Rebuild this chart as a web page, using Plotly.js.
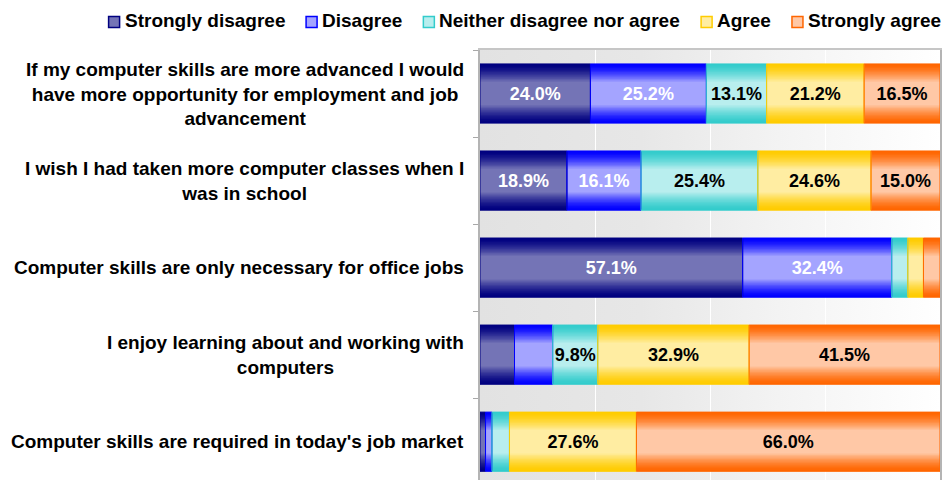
<!DOCTYPE html>
<html>
<head>
<meta charset="utf-8">
<script src="https://cdn.plot.ly/plotly-3.0.1.min.js"></script>
<style>
  html, body { margin: 0; padding: 0; background: #ffffff; }
  #chart { width: 942px; height: 480px; }
</style>
</head>
<body>
<div id="chart"></div>
<script>
// Survey statements (top to bottom) and the five response levels
const statements = [
  "If my computer skills are more advanced I would<br>have more opportunity for employment and job<br>advancement",
  "I wish I had taken more computer classes when I<br>was in school",
  "Computer skills are only necessary for office jobs",
  "I enjoy learning about and working with<br>computers",
  "Computer skills are required in today's job market"
];
const responseLabels = ["Strongly disagree", "Disagree", "Neither disagree nor agree", "Agree", "Strongly agree"];

// Share of respondents (%) per statement
const stronglyDisagree = [24.0, 18.9, 57.1, 7.5, 1.2];
const disagree         = [25.2, 16.1, 32.4, 8.3, 1.4];
const neither          = [13.1, 25.4, 3.5, 9.8, 3.8];
const agree            = [21.2, 24.6, 3.4, 32.9, 27.6];
const stronglyAgree    = [16.5, 15.0, 3.6, 41.5, 66.0];

const seriesValues = [stronglyDisagree, disagree, neither, agree, stronglyAgree];

// Segment shading: darker colour on the bar edges, lighter in the middle
const edgeColors = ["#000080", "#0000ff", "#33cccc", "#ffcc00", "#ff6600"];
const midColors  = ["#7474b6", "#a4a4ff", "#b8eeee", "#ffeda2", "#ffc8a6"];
const textColors = ["#ffffff", "#ffffff", "#000000", "#000000", "#000000"];

const FONT = "Liberation Sans, Arial, sans-serif";
const W = 942, H = 480;
const M = { l: 480, r: 2, t: 50, b: 0 };
const BAR_W = 0.68;
const STEPS = 14;

function hexToRgb(h) {
  const n = parseInt(h.slice(1), 16);
  return [(n >> 16) & 255, (n >> 8) & 255, n & 255];
}
function mix(a, b, t) {
  const A = hexToRgb(a), B = hexToRgb(b);
  const c = A.map((v, i) => Math.round(v + (B[i] - v) * t));
  return "rgb(" + c.join(",") + ")";
}
// pixel position on the page -> paper coordinates
const pxX = px => (px - M.l) / (W - M.l - M.r);
const pxY = py => 1 - (py - M.t) / (H - M.t - M.b);

// Running left edge of each segment (stacked to 100%)
const bases = seriesValues.map((vals, s) =>
  vals.map((v, i) => seriesValues.slice(0, s).reduce((acc, arr) => acc + arr[i], 0))
);

const traces = [];
seriesValues.forEach((vals, s) => {
  for (let k = 0; k < STEPS; k++) {
    const t = k / (STEPS - 1);
    traces.push({
      type: "bar",
      orientation: "h",
      y: statements,
      x: vals,
      base: bases[s],
      width: BAR_W * (1 - 0.6 * t),
      name: responseLabels[s],
      showlegend: false,
      marker: { color: mix(edgeColors[s], midColors[s], Math.pow(t, 1.4)), line: { width: 0 } },
      hoverinfo: "skip"
    });
  }
});

// Outline + value labels for each segment
seriesValues.forEach((vals, s) => {
  traces.push({
    type: "bar",
    orientation: "h",
    y: statements,
    x: vals,
    base: bases[s],
    width: BAR_W,
    name: responseLabels[s],
    showlegend: false,
    marker: { color: "rgba(0,0,0,0)", line: { color: edgeColors[s], width: 1 } },
    text: vals.map(v => (v >= 9 ? v.toFixed(1) + "%" : "")),
    textposition: "inside",
    insidetextanchor: "middle",
    constraintext: "none",
    textangle: 0,
    textfont: { family: FONT, size: 18, color: textColors[s], weight: "bold" },
    hoverinfo: "skip"
  });
});

// Plot background: soft grey fading to white towards the right
const bgSvg = "<svg xmlns='http://www.w3.org/2000/svg' width='100' height='10' preserveAspectRatio='none'>" +
  "<defs><linearGradient id='g' x1='0' x2='1' y1='0' y2='0'>" +
  "<stop offset='0' stop-color='#e2e2e2'/><stop offset='0.35' stop-color='#e7e7e7'/>" +
  "<stop offset='0.65' stop-color='#f3f3f3'/><stop offset='1' stop-color='#ffffff'/>" +
  "</linearGradient></defs><rect width='100' height='10' fill='url(#g)'/></svg>";

// Statement labels, centred line by line to the left of the bars
const annotations = statements.map(st => ({
  xref: "paper", yref: "y",
  x: 0, y: st,
  xanchor: "right", yanchor: "middle",
  xshift: -14,
  align: "center",
  text: st,
  showarrow: false,
  font: { family: FONT, size: 19, color: "#000000", weight: "bold" }
}));

// Legend row across the top: swatch + label for each response level
const LEGEND_SIZE = 19;
const ctx = document.createElement("canvas").getContext("2d");
ctx.font = "bold " + LEGEND_SIZE + "px 'Liberation Sans', Arial, sans-serif";
const shapes = [];
const SW = 11, SW_GAP = 5, ITEM_GAP = 21, LEG_Y = 21;
const widths = responseLabels.map(l => ctx.measureText(l).width);
const total = widths.reduce((a, w) => a + w + SW + SW_GAP, 0) + ITEM_GAP * (responseLabels.length - 1);
let cursor = 941 - total;
responseLabels.forEach((lab, s) => {
  shapes.push({
    type: "rect", xref: "paper", yref: "paper", layer: "above",
    x0: pxX(cursor), x1: pxX(cursor + SW),
    y0: pxY(LEG_Y + 1 + SW / 2), y1: pxY(LEG_Y + 1 - SW / 2),
    fillcolor: midColors[s],
    line: { color: edgeColors[s], width: 1.5 }
  });
  annotations.push({
    xref: "paper", yref: "paper",
    x: pxX(cursor + SW + SW_GAP - 2), y: pxY(LEG_Y),
    xanchor: "left", yanchor: "middle",
    text: lab,
    showarrow: false,
    font: { family: FONT, size: LEGEND_SIZE, color: "#000000", weight: "bold" }
  });
  cursor += SW + SW_GAP + widths[s] + ITEM_GAP;
});

const layout = {
  width: W,
  height: H,
  margin: { l: M.l, r: M.r, t: M.t, b: M.b, pad: 0 },
  paper_bgcolor: "#ffffff",
  plot_bgcolor: "rgba(0,0,0,0)",
  barmode: "overlay",
  showlegend: false,
  xaxis: {
    range: [0, 100],
    tick0: 0, dtick: 25,
    showgrid: true, gridcolor: "#ffffff", gridwidth: 1,
    showticklabels: false, ticks: "",
    zeroline: false,
    showline: true, mirror: true, linecolor: "#c6c6c6", linewidth: 2,
    fixedrange: true
  },
  yaxis: {
    type: "category",
    range: [4.44, -0.5],
    showticklabels: false,
    ticks: "outside", tickson: "boundaries", ticklen: 5, tickcolor: "#a8a8a8", tickwidth: 1,
    showgrid: false,
    zeroline: false,
    showline: true, mirror: true, linecolor: "#b4b4b4", linewidth: 2,
    fixedrange: true
  },
  images: [{
    source: "data:image/svg+xml;charset=utf-8," + encodeURIComponent(bgSvg),
    xref: "paper", yref: "paper",
    x: 0, y: 1, sizex: 1, sizey: 1,
    xanchor: "left", yanchor: "top",
    sizing: "stretch",
    layer: "below"
  }],
  shapes: shapes,
  annotations: annotations,
  hovermode: false
};

Plotly.newPlot("chart", traces, layout, { displayModeBar: false, staticPlot: true });
</script>
</body>
</html>
